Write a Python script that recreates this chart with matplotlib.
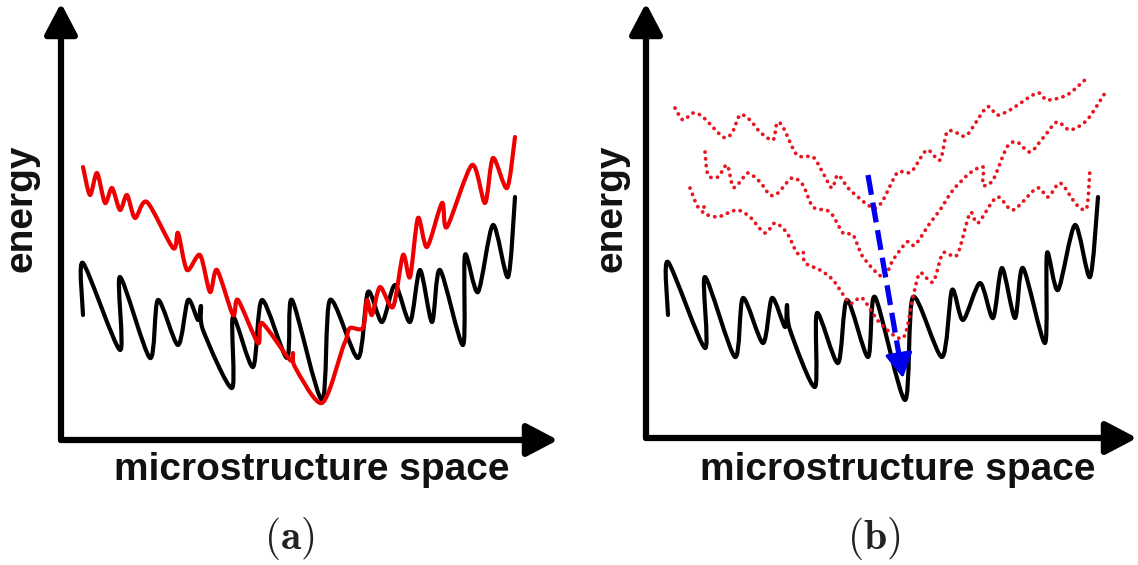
import numpy as np
import matplotlib.pyplot as plt
from matplotlib.path import Path
from matplotlib.patches import PathPatch

# energy landscapes, traced in image units (x to the right, y downwards)
a_black_x = [83, 83, 120, 120, 150, 158, 178, 188, 198, 201, 203, 232, 233, 253, 262, 287, 292,
             322, 330, 358, 368, 382, 395, 410, 420, 432, 440, 463, 465, 478, 493, 508, 515]
a_black_y = [315, 263, 350, 277, 358, 300, 345, 300, 320, 306, 330, 388, 317, 367, 300, 358, 300,
             400, 300, 358, 292, 322, 285, 322, 270, 322, 270, 345, 255, 292, 225, 277, 197]

a_red_x = [83, 90, 97, 105, 112, 120, 127, 135, 147, 173, 178, 187, 200, 210, 217, 233, 238,
           258, 262, 290, 293, 295, 322, 343, 346, 350, 363, 367, 372, 380, 393, 403, 410,
           418, 427, 442, 447, 472, 485, 493, 507, 515]
a_red_y = [167, 195, 173, 203, 188, 210, 195, 218, 202, 248, 233, 270, 255, 292, 270, 315, 300,
           343, 323, 360, 353, 367, 403, 347, 340, 328, 328, 300, 315, 287, 307, 255, 277,
           218, 247, 203, 227, 165, 203, 158, 188, 137]

b_black_x = [668, 668, 705, 705, 735, 743, 763, 772, 785, 787, 790, 815, 817, 838, 847, 868, 875,
             905, 913, 942, 952, 963, 980, 993, 1002, 1015, 1023, 1045, 1047, 1058, 1075, 1090, 1098]
b_black_y = [315, 262, 348, 277, 357, 298, 343, 298, 327, 305, 330, 387, 313, 363, 300, 357, 297,
             400, 297, 357, 290, 320, 283, 318, 268, 318, 268, 343, 253, 290, 225, 277, 197]

b_top_x = [675, 683, 693, 703, 723, 732, 740, 750, 760, 773, 777, 783, 797, 813, 823, 832, 838,
           850, 873, 883, 897, 907, 913, 927, 940, 947, 957, 967, 987, 997, 1010, 1037, 1047,
           1067, 1087]
b_top_y = [108, 120, 113, 117, 137, 133, 115, 120, 132, 140, 123, 127, 155, 157, 173, 188, 175,
           190, 208, 200, 173, 173, 170, 150, 160, 132, 133, 135, 107, 115, 110, 93, 100,
           95, 78]

b_mid_x = [705, 708, 718, 727, 733, 740, 748, 760, 770, 778, 792, 803, 813, 830, 843, 853, 863,
           883, 893, 907, 915, 930, 940, 953, 970, 983, 983, 993, 1007, 1017, 1030, 1043, 1057,
           1070, 1087, 1105]
b_mid_y = [152, 175, 177, 165, 187, 182, 173, 182, 195, 193, 178, 185, 207, 212, 233, 235, 257,
           277, 260, 242, 245, 223, 210, 190, 173, 167, 185, 180, 147, 142, 152, 138, 122,
           130, 120, 93]

b_low_x = [690, 698, 705, 703, 717, 728, 738, 750, 765, 775, 787, 797, 803, 805, 820, 833, 850,
           862, 880, 903, 913, 920, 933, 943, 957, 970, 978, 997, 1013, 1037, 1048, 1060, 1073,
           1080, 1087, 1090]
b_low_y = [188, 207, 207, 213, 217, 213, 210, 217, 233, 223, 233, 253, 252, 263, 270, 280, 303,
           298, 323, 338, 297, 273, 282, 253, 255, 213, 223, 197, 210, 188, 197, 183, 200,
           208, 207, 168]

descent_x = [868, 903]
descent_y = [175, 378]

# axes: (origin, top of energy axis, end of microstructure axis)
axis_a = [(61, 440), (61, 3), (558, 440)]
axis_b = [(646, 438), (646, 3), (1137, 438)]


def smooth(xs, ys, k=0.14):
    # Catmull-Rom style cubic Bezier path through the traced points
    pts = np.column_stack([xs, ys]).astype(float)
    n = len(pts)
    verts = [pts[0]]
    codes = [Path.MOVETO]
    for i in range(n - 1):
        p0 = pts[max(i - 1, 0)]
        p1 = pts[i]
        p2 = pts[i + 1]
        p3 = pts[min(i + 2, n - 1)]
        verts += [p1 + (p2 - p0) * k, p2 - (p3 - p1) * k, p2]
        codes += [Path.CURVE4] * 3
    return Path(verts, codes)


def draw_curve(ax, xs, ys, **kw):
    ax.add_patch(PathPatch(smooth(xs, ys), fill=False, joinstyle='round', capstyle='round', **kw))


fig = plt.figure(figsize=(11.38, 5.65), dpi=100)
ax = fig.add_axes([0, 0, 1, 1])
ax.set_xlim(0, 1138)
ax.set_ylim(565, 0)
ax.axis('off')

arrow = dict(arrowstyle='-|>,head_length=0.95,head_width=0.5', lw=4.5, color='black',
             mutation_scale=20, shrinkA=0, shrinkB=0)
for origin, top, right in [axis_a, axis_b]:
    ax.annotate('', xy=top, xytext=origin, arrowprops=arrow)
    ax.annotate('', xy=right, xytext=origin, arrowprops=arrow)

draw_curve(ax, a_black_x, a_black_y, ec='black', lw=3)
draw_curve(ax, a_red_x, a_red_y, ec='#ee0000', lw=3)
draw_curve(ax, b_black_x, b_black_y, ec='black', lw=3)
for xs, ys in [(b_top_x, b_top_y), (b_mid_x, b_mid_y), (b_low_x, b_low_y)]:
    draw_curve(ax, xs, ys, ec='#e8141e', lw=2.7, linestyle=(0, (0.05, 1.75)))

# gradient-descent path
end = (descent_x[1], descent_y[1])
dx = descent_x[1] - descent_x[0]
dy = descent_y[1] - descent_y[0]
ax.plot([descent_x[0], descent_x[1] - dx * 0.1], [descent_y[0], descent_y[1] - dy * 0.1],
        color='#0000ee', lw=3.8, linestyle=(0, (3.8, 1.5)))
ax.annotate('', xy=end, xytext=(end[0] - dx * 0.1, end[1] - dy * 0.1),
            arrowprops=dict(arrowstyle='-|>,head_length=0.75,head_width=0.42', lw=2.5,
                            color='#0000ee', mutation_scale=20, shrinkA=0, shrinkB=0))

label_font = dict(family='Liberation Sans', fontweight='bold', fontsize=28, color='#111111')
ax.text(22, 208, 'energy', rotation=90, ha='center', va='center', **label_font)
ax.text(312, 470, 'microstructure space', ha='center', va='center', **label_font)
ax.text(612, 208, 'energy', rotation=90, ha='center', va='center', **label_font)
ax.text(898, 470, 'microstructure space', ha='center', va='center', **label_font)

plt.rcParams['mathtext.fontset'] = 'cm'
ax.text(289, 538, r'$\mathbf{(a)}$', ha='center', va='center', fontsize=30, color='#222222')
ax.text(874, 538, r'$\mathbf{(b)}$', ha='center', va='center', fontsize=30, color='#222222')

fig.savefig('out.png', dpi=100)
